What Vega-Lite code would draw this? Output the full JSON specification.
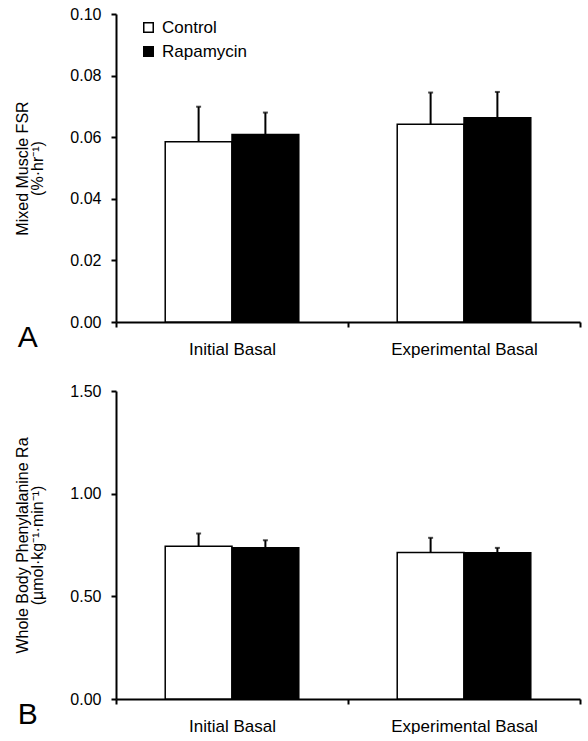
{
  "$schema": "https://vega.github.io/schema/vega-lite/v6.json",
  "padding": {"left": 14, "top": 6, "right": 5, "bottom": 0},
  "background": "white",
  "config": {
    "font": "Liberation Sans",
    "view": {"stroke": null},
    "axis": {
      "domainColor": "black", "domainWidth": 2, "tickColor": "black", "tickWidth": 2, "tickSize": 5,
      "labelColor": "black", "labelFontSize": 16, "titleColor": "black", "grid": false,
      "titleFontWeight": "normal", "titleFontSize": 16, "titleLineHeight": 15
    },
    "title": {"color": "black", "fontWeight": "normal", "fontSize": 30}
  },
  "datasets": {
    "fsr": [
      {"phase": "Initial Basal", "group": "Control", "mean": 0.0585, "upper": 0.0699},
      {"phase": "Initial Basal", "group": "Rapamycin", "mean": 0.0609, "upper": 0.0680},
      {"phase": "Experimental Basal", "group": "Control", "mean": 0.0642, "upper": 0.0745},
      {"phase": "Experimental Basal", "group": "Rapamycin", "mean": 0.0663, "upper": 0.0747}
    ],
    "ra": [
      {"phase": "Initial Basal", "group": "Control", "mean": 0.744, "upper": 0.806},
      {"phase": "Initial Basal", "group": "Rapamycin", "mean": 0.736, "upper": 0.773},
      {"phase": "Experimental Basal", "group": "Control", "mean": 0.714, "upper": 0.785},
      {"phase": "Experimental Basal", "group": "Rapamycin", "mean": 0.712, "upper": 0.736}
    ]
  },
  "spacing": 26,
  "resolve": {"scale": {"fill": "independent", "y": "independent", "x": "independent"}},
  "vconcat": [
    {
      "width": 464, "height": 308,
      "data": {"name": "fsr"},
      "title": {"text": "A", "orient": "bottom", "anchor": "start", "frame": "bounds", "dy": -38, "dx": 3},
      "encoding": {
        "x": {"field": "phase", "type": "nominal", "sort": ["Initial Basal", "Experimental Basal"],
              "scale": {"paddingInner": 0, "paddingOuter": 0},
              "axis": {"title": null, "labelAngle": 0, "tickBand": "extent", "labelPadding": 14, "labelFontSize": 17}},
        "xOffset": {"field": "group", "type": "nominal", "sort": ["Control", "Rapamycin"],
                    "scale": {"paddingInner": 0, "paddingOuter": 0.737}}
      },
      "layer": [
        {
          "mark": {"type": "bar", "stroke": "black", "strokeWidth": 1.5},
          "encoding": {
            "y": {"field": "mean", "type": "quantitative", "scale": {"domain": [0, 0.1], "nice": false},
                  "axis": {"title": ["Mixed Muscle FSR", "(%·hr⁻¹)"], "values": [0, 0.02, 0.04, 0.06, 0.08, 0.1],
                           "format": ".2f", "labelPadding": 10, "titlePadding": 24}},
            "fill": {"field": "group", "type": "nominal", "sort": ["Control", "Rapamycin"],
                     "scale": {"domain": ["Control", "Rapamycin"], "range": ["white", "black"]},
                     "legend": {"title": null, "orient": "none", "legendX": 24, "legendY": 5,
                                "symbolType": "square", "symbolSize": 90, "labelFontSize": 17,
                                "labelColor": "black", "rowPadding": 6, "labelOffset": 5,
                                "symbolStrokeColor": "black", "symbolStrokeWidth": 1.5}}
          }
        },
        {
          "mark": {"type": "rule", "strokeWidth": 2, "color": "black"},
          "encoding": {"y": {"field": "mean", "type": "quantitative"}, "y2": {"field": "upper"}}
        },
        {
          "mark": {"type": "tick", "orient": "horizontal", "size": 5, "thickness": 2, "color": "black"},
          "encoding": {"y": {"field": "upper", "type": "quantitative"}}
        }
      ]
    },
    {
      "width": 464, "height": 308,
      "data": {"name": "ra"},
      "title": {"text": "B", "orient": "bottom", "anchor": "start", "frame": "bounds", "dy": -38, "dx": 3},
      "encoding": {
        "x": {"field": "phase", "type": "nominal", "sort": ["Initial Basal", "Experimental Basal"],
              "scale": {"paddingInner": 0, "paddingOuter": 0},
              "axis": {"title": null, "labelAngle": 0, "tickBand": "extent", "labelPadding": 14, "labelFontSize": 17}},
        "xOffset": {"field": "group", "type": "nominal", "sort": ["Control", "Rapamycin"],
                    "scale": {"paddingInner": 0, "paddingOuter": 0.737}}
      },
      "layer": [
        {
          "mark": {"type": "bar", "stroke": "black", "strokeWidth": 1.5},
          "encoding": {
            "y": {"field": "mean", "type": "quantitative", "scale": {"domain": [0, 1.5], "nice": false},
                  "axis": {"title": ["Whole Body Phenylalanine Ra", "(µmol·kg⁻¹·min⁻¹)"], "values": [0, 0.5, 1, 1.5],
                           "format": ".2f", "labelPadding": 10, "titlePadding": 24}},
            "fill": {"field": "group", "type": "nominal", "sort": ["Control", "Rapamycin"],
                     "scale": {"domain": ["Control", "Rapamycin"], "range": ["white", "black"]},
                     "legend": null}
          }
        },
        {
          "mark": {"type": "rule", "strokeWidth": 2, "color": "black"},
          "encoding": {"y": {"field": "mean", "type": "quantitative"}, "y2": {"field": "upper"}}
        },
        {
          "mark": {"type": "tick", "orient": "horizontal", "size": 5, "thickness": 2, "color": "black"},
          "encoding": {"y": {"field": "upper", "type": "quantitative"}}
        }
      ]
    }
  ]
}
